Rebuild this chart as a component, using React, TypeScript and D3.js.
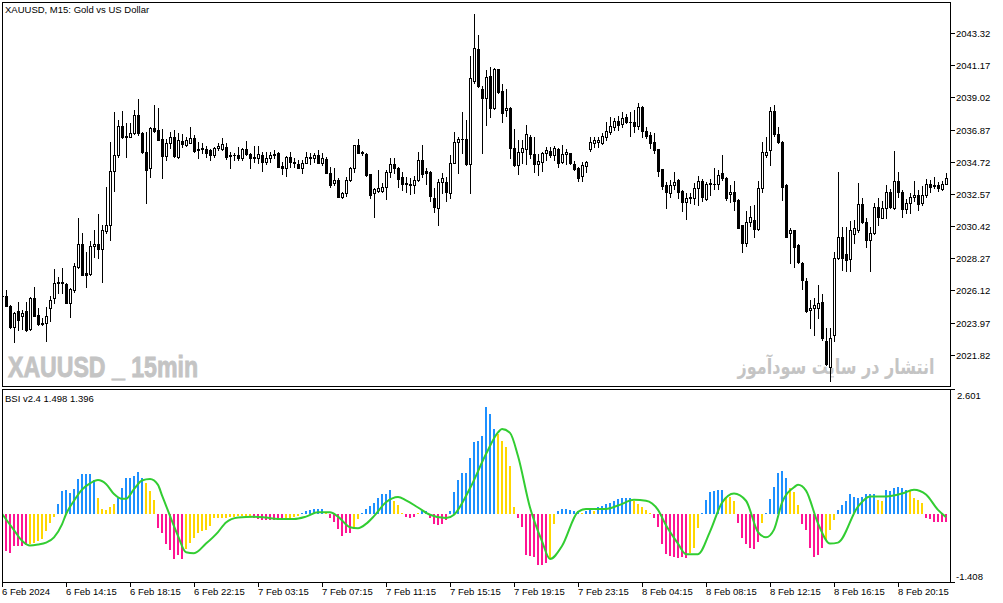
import React, { useLayoutEffect, useRef, useState } from 'react';
import * as d3 from 'd3';

// XAUUSD M15 candles, 6 Feb 10:15 .. 8 Feb 21:15 (237 bars)
const opens = [
  2025.75, 2025.75, 2025.08, 2023.68, 2024.75, 2024.41, 2024.75, 2023.54, 2025.62, 2024.48,
  2023.94, 2023.94, 2024.95, 2025.62, 2026.68, 2026.68, 2026.55, 2025.28, 2026.15, 2027.68,
  2029.22, 2027.28, 2027.22, 2029.09, 2029.22, 2028.89, 2030.09, 2030.49, 2034.11, 2035.17,
  2037.11, 2036.44, 2036.38, 2036.64, 2037.84, 2036.64, 2035.37, 2034.31, 2036.98, 2036.84,
  2036.24, 2035.11, 2035.98, 2036.38, 2035.04, 2036.11, 2035.84, 2035.98, 2036.31, 2035.57,
  2035.57, 2035.57, 2035.51, 2035.17, 2035.64, 2035.57, 2035.71, 2035.17, 2035.17, 2035.17,
  2034.97, 2035.57, 2035.24, 2035.04, 2034.97, 2035.17, 2034.71, 2034.97, 2035.17, 2035.31,
  2034.44, 2034.31, 2035.04, 2034.71, 2034.58, 2034.31, 2034.64, 2035.04, 2034.97, 2035.17,
  2034.64, 2034.91, 2033.97, 2033.31, 2033.51, 2032.36, 2032.63, 2033.51, 2034.31, 2035.84,
  2035.37, 2035.24, 2033.91, 2032.63, 2032.77, 2032.77, 2033.04, 2034.04, 2034.58, 2034.31,
  2033.71, 2033.31, 2033.24, 2033.17, 2033.51, 2034.84, 2034.11, 2034.04, 2032.30, 2031.63,
  2033.37, 2033.37, 2032.63, 2034.64, 2036.04, 2036.24, 2036.24, 2034.58, 2040.12, 2042.26,
  2039.58, 2038.98, 2040.45, 2038.32, 2040.92, 2039.45, 2038.18, 2038.32, 2035.64, 2034.51,
  2035.37, 2035.57, 2036.38, 2035.24, 2034.58, 2034.71, 2035.31, 2035.44, 2035.17, 2035.57,
  2034.71, 2035.24, 2035.31, 2034.58, 2034.31, 2033.77, 2034.44, 2035.57, 2035.98, 2036.04,
  2035.98, 2036.38, 2036.71, 2037.04, 2037.44, 2037.24, 2037.71, 2037.38, 2037.38, 2037.11,
  2038.38, 2036.78, 2036.51, 2036.04, 2035.57, 2034.24, 2033.17, 2032.63, 2033.17, 2033.51,
  2032.77, 2032.03, 2032.36, 2032.30, 2032.97, 2033.44, 2032.23, 2033.24, 2033.24, 2033.24,
  2033.97, 2033.64, 2032.57, 2032.70, 2032.16, 2030.49, 2029.29, 2030.69, 2030.83, 2030.22,
  2032.97, 2035.17, 2035.51, 2038.12, 2036.58, 2036.04, 2033.17, 2029.96, 2030.16, 2029.16,
  2027.95, 2026.75, 2024.81, 2024.95, 2024.95, 2025.35, 2022.74, 2021.00, 2023.14, 2028.29,
  2029.69, 2028.55, 2028.22, 2029.89, 2030.16, 2031.90, 2030.69, 2029.49, 2029.96, 2031.70,
  2030.96, 2031.63, 2032.70, 2031.63, 2033.44, 2032.70, 2031.56, 2031.96, 2032.36, 2032.50,
  2031.96, 2032.50, 2033.24, 2033.17, 2033.17, 2032.90, 2033.24,
];

const highs = [
  2026.01, 2026.15, 2025.15, 2024.68, 2025.35, 2024.81, 2025.35, 2025.68, 2026.35, 2024.95,
  2024.28, 2025.01, 2025.75, 2027.55, 2027.02, 2027.62, 2026.62, 2026.28, 2027.95, 2030.96,
  2029.96, 2028.68, 2029.42, 2030.16, 2031.23, 2030.49, 2033.03, 2036.04, 2038.05, 2037.51,
  2038.11, 2037.31, 2037.31, 2038.18, 2038.91, 2036.71, 2036.71, 2037.04, 2038.52, 2038.32,
  2036.91, 2036.24, 2036.71, 2036.84, 2036.64, 2036.58, 2036.38, 2037.04, 2036.51, 2036.04,
  2035.98, 2035.78, 2035.57, 2035.71, 2035.98, 2036.31, 2035.98, 2035.37, 2035.31, 2035.71,
  2035.64, 2036.11, 2035.31, 2035.78, 2035.78, 2035.37, 2035.37, 2035.37, 2035.51, 2035.37,
  2034.71, 2035.11, 2035.37, 2034.97, 2034.84, 2034.84, 2035.37, 2035.31, 2035.31, 2035.51,
  2035.31, 2035.04, 2034.37, 2034.31, 2033.64, 2032.70, 2033.71, 2034.37, 2035.84, 2036.24,
  2035.44, 2035.31, 2033.91, 2032.97, 2034.17, 2033.30, 2034.17, 2034.97, 2034.97, 2034.37,
  2034.04, 2033.71, 2033.64, 2033.77, 2035.37, 2035.84, 2034.31, 2034.11, 2032.97, 2033.57,
  2033.97, 2033.71, 2035.17, 2036.71, 2036.38, 2038.05, 2037.51, 2041.79, 2044.59, 2043.19,
  2039.78, 2040.85, 2041.05, 2040.99, 2040.92, 2039.92, 2039.58, 2038.38, 2036.91, 2036.18,
  2036.18, 2037.18, 2036.51, 2036.38, 2035.24, 2035.37, 2035.71, 2035.71, 2035.78, 2035.64,
  2035.84, 2035.57, 2035.31, 2034.78, 2034.37, 2034.71, 2034.78, 2036.38, 2036.38, 2036.38,
  2036.64, 2037.38, 2037.71, 2037.65, 2037.78, 2038.05, 2037.91, 2038.05, 2038.18, 2038.65,
  2038.45, 2037.04, 2036.71, 2036.64, 2035.57, 2034.24, 2033.37, 2033.51, 2034.04, 2033.57,
  2032.83, 2032.63, 2032.63, 2033.30, 2033.77, 2033.57, 2033.37, 2033.57, 2034.31, 2034.17,
  2035.17, 2033.71, 2033.17, 2033.44, 2032.23, 2030.49, 2031.43, 2031.76, 2031.83, 2033.44,
  2036.04, 2036.38, 2038.38, 2038.52, 2037.04, 2036.11, 2033.24, 2030.29, 2030.16, 2029.22,
  2028.02, 2026.95, 2025.48, 2025.62, 2026.48, 2025.88, 2023.61, 2023.61, 2028.69, 2034.04,
  2030.36, 2030.36, 2030.76, 2030.82, 2033.30, 2032.30, 2030.96, 2030.36, 2031.96, 2032.30,
  2032.10, 2033.17, 2032.90, 2035.44, 2034.04, 2032.83, 2032.23, 2032.63, 2033.44, 2032.83,
  2033.10, 2033.57, 2033.51, 2033.71, 2033.37, 2033.44, 2033.97,
];

const lows = [
  2025.48, 2025.08, 2023.61, 2022.67, 2023.48, 2023.54, 2023.41, 2023.48, 2024.41, 2023.81,
  2023.81, 2022.74, 2024.08, 2025.28, 2025.95, 2025.95, 2025.28, 2024.34, 2026.01, 2027.62,
  2027.15, 2026.35, 2027.15, 2028.35, 2028.28, 2026.68, 2029.96, 2029.49, 2032.77, 2035.04,
  2036.31, 2035.04, 2036.38, 2036.58, 2036.51, 2035.31, 2031.96, 2033.71, 2036.71, 2036.18,
  2033.64, 2034.84, 2035.64, 2035.04, 2034.97, 2035.71, 2035.78, 2035.98, 2035.37, 2034.97,
  2035.31, 2035.04, 2034.84, 2035.04, 2035.51, 2035.51, 2034.91, 2034.31, 2034.84, 2034.84,
  2034.84, 2035.17, 2034.31, 2034.71, 2034.64, 2034.11, 2034.58, 2034.71, 2034.97, 2034.37,
  2033.91, 2033.77, 2034.37, 2034.37, 2034.31, 2033.97, 2034.64, 2034.58, 2034.71, 2034.64,
  2034.51, 2033.97, 2033.04, 2033.17, 2032.36, 2032.30, 2032.43, 2033.44, 2034.04, 2035.31,
  2035.17, 2033.77, 2032.30, 2031.03, 2032.70, 2032.70, 2032.23, 2033.71, 2033.97, 2033.04,
  2032.83, 2032.70, 2032.57, 2032.63, 2033.44, 2033.71, 2033.24, 2032.10, 2031.36, 2030.49,
  2032.63, 2032.10, 2032.30, 2034.64, 2033.97, 2035.31, 2034.51, 2032.63, 2039.98, 2039.72,
  2035.31, 2037.18, 2037.71, 2038.25, 2039.32, 2037.38, 2037.78, 2034.97, 2034.44, 2033.91,
  2034.64, 2034.58, 2034.97, 2034.04, 2033.84, 2034.11, 2034.84, 2035.04, 2034.84, 2034.37,
  2034.64, 2034.58, 2034.58, 2034.17, 2033.44, 2033.44, 2034.04, 2035.44, 2035.71, 2035.71,
  2035.91, 2036.18, 2036.58, 2036.84, 2036.84, 2037.04, 2037.31, 2036.44, 2036.71, 2036.91,
  2036.38, 2036.31, 2035.64, 2035.31, 2033.77, 2032.90, 2031.63, 2032.36, 2032.90, 2032.30,
  2031.43, 2030.90, 2031.96, 2031.90, 2031.83, 2032.10, 2032.16, 2032.50, 2032.90, 2032.90,
  2033.51, 2032.16, 2032.03, 2031.50, 2030.29, 2028.69, 2029.09, 2030.42, 2029.69, 2030.16,
  2032.70, 2035.04, 2034.51, 2036.44, 2035.98, 2032.16, 2029.69, 2027.95, 2027.68, 2027.95,
  2026.22, 2024.68, 2023.61, 2023.14, 2024.28, 2022.81, 2021.14, 2020.07, 2022.74, 2028.22,
  2027.48, 2027.42, 2027.42, 2029.29, 2030.02, 2030.63, 2029.02, 2027.42, 2029.89, 2030.49,
  2030.96, 2030.96, 2031.63, 2031.56, 2032.36, 2031.03, 2031.30, 2031.30, 2032.10, 2031.50,
  2031.83, 2032.36, 2032.70, 2032.97, 2032.77, 2032.83, 2033.24,
];

const closes = [
  2025.75, 2025.08, 2023.68, 2024.61, 2024.14, 2024.61, 2023.48, 2025.62, 2024.41, 2023.88,
  2023.88, 2024.41, 2025.48, 2026.62, 2026.62, 2026.62, 2025.28, 2026.22, 2027.75, 2029.22,
  2027.15, 2027.15, 2029.09, 2029.22, 2028.89, 2030.16, 2030.49, 2034.11, 2035.17, 2037.11,
  2036.38, 2036.38, 2036.64, 2037.84, 2036.64, 2035.37, 2034.17, 2036.98, 2036.78, 2036.18,
  2035.11, 2035.98, 2036.38, 2035.11, 2036.18, 2035.91, 2036.18, 2036.31, 2035.44, 2035.51,
  2035.64, 2035.31, 2035.17, 2035.64, 2035.78, 2035.91, 2035.04, 2035.11, 2035.15, 2034.97,
  2035.57, 2035.24, 2034.97, 2034.97, 2035.24, 2034.71, 2034.97, 2035.17, 2035.24, 2034.37,
  2034.31, 2035.04, 2034.71, 2034.64, 2034.31, 2034.64, 2035.04, 2034.97, 2035.17, 2034.64,
  2034.97, 2033.97, 2033.17, 2033.51, 2032.36, 2032.63, 2033.51, 2034.31, 2035.84, 2035.31,
  2035.31, 2033.84, 2032.50, 2032.90, 2032.97, 2033.04, 2034.04, 2034.58, 2034.31, 2033.57,
  2033.24, 2033.24, 2033.17, 2033.51, 2034.84, 2033.91, 2033.97, 2032.43, 2031.70, 2033.37,
  2033.64, 2032.70, 2034.64, 2036.04, 2036.24, 2036.24, 2034.58, 2040.32, 2042.32, 2039.78,
  2038.98, 2040.39, 2038.32, 2040.92, 2039.38, 2037.98, 2038.32, 2035.64, 2034.51, 2035.37,
  2035.64, 2036.58, 2035.24, 2034.58, 2034.78, 2035.31, 2035.51, 2035.17, 2035.64, 2034.64,
  2035.24, 2035.37, 2034.64, 2034.24, 2033.64, 2034.51, 2034.71, 2036.04, 2036.18, 2036.18,
  2036.44, 2036.78, 2037.11, 2037.44, 2037.18, 2037.65, 2037.38, 2037.38, 2037.11, 2038.38,
  2036.78, 2036.44, 2035.98, 2035.51, 2034.11, 2033.10, 2032.70, 2033.17, 2033.37, 2032.70,
  2032.03, 2032.30, 2032.30, 2032.97, 2033.44, 2032.36, 2033.24, 2033.31, 2033.24, 2033.84,
  2033.64, 2032.30, 2032.70, 2032.10, 2030.29, 2029.29, 2030.69, 2031.03, 2030.22, 2032.97,
  2035.37, 2035.37, 2038.12, 2036.58, 2036.04, 2033.04, 2029.69, 2030.16, 2029.02, 2028.02,
  2026.82, 2024.75, 2024.95, 2025.15, 2025.28, 2022.94, 2021.21, 2022.94, 2028.29, 2029.69,
  2028.29, 2028.15, 2030.16, 2030.29, 2031.90, 2030.69, 2029.49, 2029.96, 2031.70, 2031.03,
  2031.63, 2032.70, 2031.70, 2033.44, 2032.70, 2031.56, 2031.96, 2032.36, 2032.50, 2031.90,
  2032.50, 2033.24, 2033.04, 2033.10, 2032.97, 2033.24, 2033.64,
];

// BSI histogram, one value per bar
const bsiHist = [
  -0.75, -0.75, -0.79, -0.64, -0.64, -0.64, -0.62, -0.60, -0.58, -0.54,
  -0.50, -0.33, -0.17, -0.04, 0.23, 0.50, 0.52, 0.46, 0.54, 0.75,
  0.85, 0.85, 0.85, 0.73, 0.35, 0.12, 0.10, 0.15, 0.23, 0.35,
  0.56, 0.77, 0.77, 0.81, 0.89, 0.77, 0.66, 0.50, 0.31, -0.27,
  -0.39, -0.60, -0.73, -0.91, -0.83, -0.91, -0.71, -0.58, -0.48, -0.39,
  -0.33, -0.31, -0.23, -0.07, -0.07, -0.07, -0.06, -0.05, -0.04, -0.03,
  -0.02, -0.02, -0.02, -0.06, -0.08, -0.10, -0.12, -0.10, -0.10, -0.10,
  -0.10, -0.06, -0.06, -0.04, -0.02, 0.04, 0.08, 0.10, 0.11, 0.11,
  0.11, 0.03, -0.06, -0.15, -0.29, -0.44, -0.39, -0.39, -0.29, -0.08,
  0.04, 0.12, 0.19, 0.25, 0.35, 0.44, 0.44, 0.52, 0.29, 0.21,
  0.04, -0.04, -0.06, -0.04, 0.01, 0.08, 0.08, -0.06, -0.19, -0.21,
  -0.19, -0.10, 0.08, 0.48, 0.73, 0.87, 0.87, 1.18, 1.52, 1.54,
  1.64, 2.24, 2.10, 1.79, 1.68, 1.54, 1.41, 1.02, 0.17, -0.06,
  -0.25, -0.83, -0.85, -0.87, -1.04, -1.04, -1.00, -0.89, -0.19, 0.08,
  0.12, 0.12, 0.10, 0.08, 0.08, 0.04, 0.08, 0.10, 0.08, 0.15,
  0.19, 0.23, 0.25, 0.29, 0.33, 0.35, 0.35, 0.35, 0.29, 0.23,
  0.17, 0.10, 0.02, -0.06, -0.25, -0.60, -0.81, -0.85, -0.87, -0.89,
  -0.87, -0.89, -0.79, -0.69, -0.27, 0.02, 0.31, 0.48, 0.50, 0.52,
  0.52, 0.37, 0.37, 0.29, -0.17, -0.48, -0.60, -0.69, -0.71, -0.56,
  -0.17, 0.04, 0.33, 0.58, 0.87, 0.91, 0.77, 0.56, 0.48, 0.21,
  -0.19, -0.31, -0.69, -0.87, -0.83, -0.69, -0.52, -0.31, -0.10, 0.10,
  0.21, 0.29, 0.42, 0.37, 0.35, 0.37, 0.44, 0.44, 0.44, 0.31,
  0.29, 0.52, 0.50, 0.56, 0.58, 0.56, 0.52, 0.52, 0.35, 0.31,
  0.25, -0.06, -0.08, -0.15, -0.15, -0.15, -0.15,
];

// histogram state per bar, as runs: b = rising up, y = weakening, m = falling down
const bsiStateRuns: [string, number][] = [
  ['m', 7], ['y', 7], ['b', 10], ['y', 5], ['b', 7], ['y', 3], ['m', 7], ['y', 17],
  ['m', 8], ['y', 4], ['b', 6], ['y', 1], ['m', 6], ['y', 2], ['b', 8], ['y', 3],
  ['m', 3], ['y', 1], ['b', 2], ['m', 5], ['b', 12], ['y', 5], ['m', 8], ['y', 2],
  ['b', 6], ['y', 1], ['b', 2], ['y', 1], ['b', 9], ['y', 5], ['m', 9], ['y', 3],
  ['b', 6], ['y', 3], ['m', 6], ['y', 1], ['b', 6], ['y', 3], ['m', 6], ['y', 3],
  ['b', 10], ['y', 2], ['b', 6], ['y', 4], ['m', 6],
];

// BSI signal line (bar index, value)
const signalBars = [
  0, 3, 5, 7, 9, 11, 13, 15, 16, 18, 20, 22, 24, 26, 28, 30, 31, 33, 35, 37,
  39, 40, 41, 44, 46, 48, 51, 54, 56, 59, 63, 66, 69, 73, 76, 79, 82, 84, 87, 89,
  91, 93, 96, 99, 101, 104, 107, 111, 113, 117, 121, 124, 125, 127, 129, 132, 135, 137, 140, 144,
  146, 151, 154, 158, 161, 164, 166, 169, 171, 174, 177, 180, 183, 186, 189, 191, 193, 195, 198, 199,
  201, 204, 207, 209, 214, 217, 221, 225, 228, 231, 234, 236,
];
const signalValues = [
  0.02, -0.32, -0.54, -0.64, -0.62, -0.58, -0.47, -0.2, 0.01, 0.29, 0.52, 0.65, 0.72, 0.64, 0.43, 0.33, 0.33, 0.53, 0.71, 0.74,
  0.62, 0.4, 0.19, -0.44, -0.78, -0.8, -0.6, -0.36, -0.16, -0.06, -0.04, -0.06, -0.09, -0.09, -0.04, 0.05, 0.05, -0.04, -0.26, -0.28,
  -0.19, -0.03, 0.26, 0.37, 0.3, 0.15, 0.0, -0.07, 0.0, 0.55, 1.26, 1.71, 1.78, 1.7, 1.22, 0.15, -0.55, -0.92, -0.65, 0.06,
  0.12, 0.12, 0.19, 0.31, 0.29, 0.1, -0.22, -0.6, -0.82, -0.82, -0.35, 0.25, 0.44, 0.29, -0.36, -0.47, -0.31, 0.25, 0.57, 0.62,
  0.5, -0.18, -0.6, -0.58, 0.17, 0.38, 0.38, 0.44, 0.52, 0.42, 0.1, -0.05,
];

const priceTicks = [2043.32, 2041.17, 2039.02, 2036.87, 2034.72, 2032.57, 2030.42, 2028.27, 2026.12, 2023.97, 2021.82];
const bsiTicks = [2.601, -1.408];
const timeTickBars = [0, 16, 32, 48, 64, 80, 96, 112, 128, 144, 160, 176, 192, 208, 224];
const timeLabels = [
  '6 Feb 2024', '6 Feb 14:15', '6 Feb 18:15', '6 Feb 22:15', '7 Feb 03:15', '7 Feb 07:15', '7 Feb 11:15',
  '7 Feb 15:15', '7 Feb 19:15', '7 Feb 23:15', '8 Feb 04:15', '8 Feb 08:15', '8 Feb 12:15', '8 Feb 16:15', '8 Feb 20:15',
];

const stateColors: Record<string, string> = { b: '#1e90ff', y: '#ffd700', m: '#ff1493' };
const font = "'Liberation Sans', Arial, sans-serif";

const App: React.FC = () => {
  const width = 1003;
  const height = 603;
  const left = 2;
  const right = 950;
  const mainTop = 2;
  const mainBottom = 386;
  const indTop = 389;
  const indBottom = 582;

  // the Persian watermark is squeezed to its width with a scale, measured after mount
  const faRef = useRef<SVGTextElement>(null);
  const [faScale, setFaScale] = useState(1);
  useLayoutEffect(() => {
    if (!faRef.current) return;
    const len = faRef.current.getComputedTextLength();
    if (len > 0) setFaScale(197 / len);
  }, []);

  const x = d3.scaleLinear().domain([0, closes.length - 1]).range([2, 2 + 4 * (closes.length - 1)]);
  const y = d3.scaleLinear().domain([2021.82, 2043.32]).range([354.8, 33.1]);
  const yInd = d3.scaleLinear().domain([-1.408, 2.601]).range([indBottom + 0.5, indTop + 0.5]);
  const zeroY = Math.floor(yInd(0));

  const states = bsiStateRuns.flatMap(([s, n]) => Array(n).fill(s) as string[]);

  const signalPath = d3.line<number>()
    .x((_, k) => x(signalBars[k]))
    .y(v => yInd(v))
    .curve(d3.curveMonotoneX)(signalValues) || '';

  return (
    <svg
      width={width}
      height={height}
      style={{ position: 'absolute', left: 0, top: 0, background: '#fff' }}
      fontFamily={font}
    >
      <defs>
        <clipPath id="mainClip">
          <rect x={left + 1} y={mainTop + 1} width={right - left - 1} height={mainBottom - mainTop - 1} />
        </clipPath>
        <clipPath id="indClip">
          <rect x={left + 1} y={indTop + 1} width={right - left - 1} height={indBottom - indTop - 1} />
        </clipPath>
      </defs>
      <rect x={0} y={0} width={width} height={height} fill="#fff" />

      {/* watermarks */}
      <text x={8} y={377} fontSize={29} fontWeight="bold" fill="#c4c4c4" stroke="#c4c4c4" strokeWidth={0.9}
        fontFamily="'Liberation Sans Narrow', 'Liberation Sans', Arial, sans-serif"
        textLength={190} lengthAdjust="spacingAndGlyphs">XAUUSD _ 15min</text>
      <g transform={`translate(836,374) scale(${faScale},1)`}>
        <text ref={faRef} x={0} y={0} fontSize={21} fontWeight="bold" fill="#c4c4c4" textAnchor="middle"
          fontFamily="'DejaVu Sans', sans-serif">انتشار در سایت سودآموز</text>
      </g>

      {/* candles */}
      <g clipPath="url(#mainClip)" shapeRendering="crispEdges">
        {closes.map((c, i) => {
          const o = opens[i];
          const xc = Math.round(x(i));
          const yh = Math.round(y(highs[i]));
          const yl = Math.round(y(lows[i]));
          const top = Math.round(y(Math.max(o, c)));
          const bot = Math.round(y(Math.min(o, c)));
          const up = c > o;
          return (
            <g key={i}>
              <rect x={xc} y={yh} width={1} height={yl - yh + 1} fill="#000" />
              <rect x={xc - 1} y={top} width={3} height={Math.max(1, bot - top + 1)} fill="#000" />
              {up && bot - top > 1 && (
                <rect x={xc} y={top + 1} width={1} height={bot - top - 1} fill="#fff" />
              )}
            </g>
          );
        })}
      </g>

      {/* BSI histogram + signal */}
      <g clipPath="url(#indClip)">
        <g shapeRendering="crispEdges">
          {bsiHist.map((v, i) => {
            const xc = Math.round(x(i));
            const yv = Math.round(yInd(v));
            const y0 = v >= 0 ? Math.min(yv, zeroY - 1) : zeroY;
            const h = v >= 0 ? Math.max(1, zeroY - yv) : Math.max(1, yv - zeroY);
            return (
              <rect key={i} x={xc - 1} y={y0} width={2} height={h}
                fill={stateColors[states[i] || (v >= 0 ? 'b' : 'm')]} />
            );
          })}
        </g>
        <path d={signalPath} fill="none" stroke="#32cd32" strokeWidth={2} />
      </g>

      {/* frames */}
      <g fill="none" stroke="#000" strokeWidth={1} shapeRendering="crispEdges">
        <rect x={left + 0.5} y={mainTop + 0.5} width={right - left} height={mainBottom - mainTop} />
        <rect x={left + 0.5} y={indTop + 0.5} width={right - left} height={indBottom - indTop} />
      </g>

      {/* labels */}
      <text x={5} y={12.5} fontSize={9.5} fill="#000">XAUUSD, M15:  Gold vs US Dollar</text>
      <text x={5} y={402} fontSize={9.5} fill="#000">BSI v2.4 1.498 1.396</text>

      {/* price axis */}
      <g shapeRendering="crispEdges">
        {priceTicks.map(p => {
          const ty = Math.round(y(p));
          return <rect key={p} x={right + 1} y={ty} width={4} height={1} fill="#000" />;
        })}
        <rect x={right + 1} y={indTop} width={4} height={1} fill="#000" />
        <rect x={right + 1} y={indBottom} width={4} height={1} fill="#000" />
      </g>
      {priceTicks.map(p => (
        <text key={p} x={956} y={Math.round(y(p)) + 4} fontSize={9.5} fill="#000">{p.toFixed(2)}</text>
      ))}
      <text x={957} y={398.5} fontSize={9.5} fill="#000">{bsiTicks[0].toFixed(3)}</text>
      <text x={956} y={580} fontSize={9.5} fill="#000">{bsiTicks[1].toFixed(3)}</text>

      {/* time axis */}
      <g shapeRendering="crispEdges">
        {timeTickBars.map(b => (
          <rect key={b} x={Math.round(x(b))} y={indBottom} width={1} height={5} fill="#000" />
        ))}
      </g>
      {timeTickBars.map((b, k) => (
        <text key={b} x={Math.round(x(b))} y={595} fontSize={9.5} fill="#000">{timeLabels[k]}</text>
      ))}
    </svg>
  );
};

export default App;
